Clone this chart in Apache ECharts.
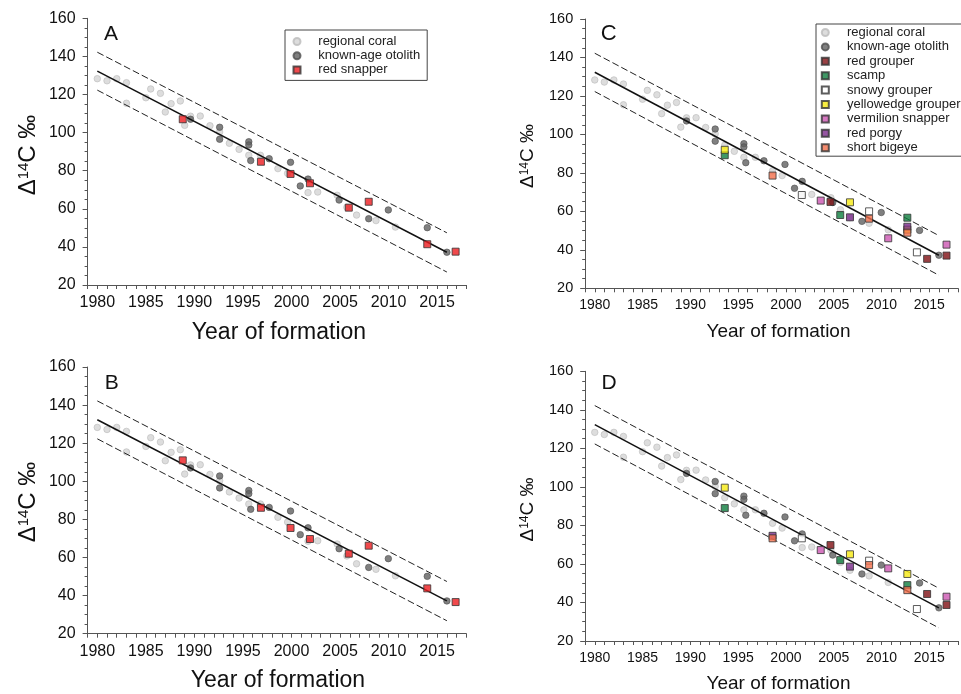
<!DOCTYPE html>
<html><head><meta charset="utf-8">
<script src="https://cdn.jsdelivr.net/npm/echarts/dist/echarts.min.js"></script>
<style>html,body{margin:0;padding:0;background:#fff}#c{width:961px;height:694px}</style>
</head><body><div id="c"></div>
<script>
// ---- data ----
const coralYears = [1980.0,1981.0,1982.0,1983.0,1983.0,1985.0,1985.5,1986.5,1987.0,1987.6,1988.55,1989.0,1989.6,1990.6,1991.6,1992.6,1993.6,1994.6,1995.6,1996.8,1998.6,1999.6,2001.7,2002.7,2004.7,2005.7,2006.7,2008.7,2010.7];
const coralVals  = [128.3,127.2,128.3,126.2,115.4,118.3,122.9,120.6,110.8,115.2,116.6,103.8,108.6,108.7,103.6,100.3,94.4,91.2,88.1,88.1,81.1,78.6,68.5,68.8,67.1,60.8,56.7,53.8,50.4];
const otolithYears = [1989.6,1992.6,1992.6,1995.6,1995.6,1995.8,1997.7,1999.9,2000.9,2001.7,2004.9,2007.95,2009.97,2013.98,2016.0];
const otolithVals  = [107,102.8,96.5,95.2,93.5,85.3,86.3,84.4,72,75.6,64.6,54.8,59.4,50.1,37.2];

const snapperYears = [1988.8,1996.85,1999.9,2001.9,2005.9,2007.95,2013.98,2016.9];
const snapperValsA = [107,84.7,78.3,73.4,60.6,63.7,41.4,37.5];
const snapperValsB = [111,86.1,75.5,69.7,62,66.2,43.8,36.6];

const fitYears  = [1980, 2016];
const fitVals   = [132.3, 37.2];
const upperVals = [142.2, 47.4];
const lowerVals = [122.3, 26.8];

// panel C species
const redGrouperYearsC = [2004.66,2014.77,2016.8];
const redGrouperValsC  = [64.9,35.3,37];
const scampYearsC = [1993.6,2005.68,2012.7];
const scampValsC  = [89.2,58.1,56.7];
const snowyYearsC = [2001.66,2008.7,2013.7];
const snowyValsC  = [68.5,60,38.7];
const yellowedgeYearsC = [1993.6,2006.7,2012.7];
const yellowedgeValsC  = [92,64.7,50.5];
const vermilionYearsC = [2003.64,2010.7,2016.8];
const vermilionValsC  = [65.6,46,42.7];
const porgyYearsC = [2006.7,2012.7];
const porgyValsC  = [56.9,52];
const bigeyeYearsC = [1998.6,2008.7,2012.7];
const bigeyeValsC  = [78.6,56.2,48.9];

// panel D species
const redGrouperYearsD = [2004.66,2014.77,2016.8];
const redGrouperValsD  = [69.8,44.4,38.7];
const scampYearsD = [1993.6,2005.68,2012.7];
const scampValsD  = [89,62,49];
const snowyYearsD = [2001.66,2008.7,2013.7];
const snowyValsD  = [73.3,61.7,36.6];
const yellowedgeYearsD = [1993.6,2006.7,2012.7];
const yellowedgeValsD  = [99.6,65,54.8];
const vermilionYearsD = [2003.64,2010.7,2016.8];
const vermilionValsD  = [67.2,57.7,43];
const porgyYearsD = [1998.6,2006.7];
const porgyValsD  = [74.6,58.6];
const bigeyeYearsD = [1998.6,2008.7,2012.7];
const bigeyeValsD  = [73.3,59.4,46.4];

const xTicksMin = 1979, xTicksMax = 2018, yMin = 20, yMax = 160, yStep = 20;

// ---- chart ----
const FONT = 'Liberation Sans';
const zip = (xs, ys) => xs.map((x, i) => [x, ys[i]]);

const grids = [
  {left: 87.6, top: 18.3, width: 378.7, height: 266.7},
  {left: 87.6, top: 367,  width: 378.7, height: 266.7},
  {left: 585.2, top: 19,  width: 382.2, height: 269.3},
  {left: 585.2, top: 371.3, width: 382.2, height: 269.7}
];
const big = [16, 16, 14, 14];

const xAxes = grids.map((g, i) => ({
  type: 'value', gridIndex: i, min: xTicksMin, max: xTicksMax, interval: 1,
  splitLine: {show: false},
  axisLine: {show: true, lineStyle: {color: '#555', width: 1}},
  axisTick: {show: true, length: 4, lineStyle: {color: '#555'}},
  axisLabel: {fontSize: big[i], color: '#111', fontFamily: FONT, margin: 10,
    formatter: v => (Math.round(v) % 5 === 0 ? String(Math.round(v)) : '')}
}));
const yAxes = grids.map((g, i) => ({
  type: 'value', gridIndex: i, min: yMin, max: yMax, interval: yStep,
  splitLine: {show: false},
  axisLine: {show: true, lineStyle: {color: '#555', width: 1}},
  axisTick: {show: true, length: 5, lineStyle: {color: '#555'}},
  minorTick: {show: true, splitNumber: 4, length: 3, lineStyle: {color: '#555'}},
  axisLabel: {fontSize: big[i] + (i < 2 ? 0 : 0.5), color: '#111', fontFamily: FONT, margin: 12}
}));

const coralStyle   = {color: '#d4d4d4', borderColor: '#bcbcbc', borderWidth: 0.8};
const otolithStyle = {color: '#606060', borderColor: '#505050', borderWidth: 0.8};
const sq = c => ({color: c, borderColor: '#333', borderWidth: 1});
const colors = {
  'red snapper': '#ec1c1f', 'red grouper': '#7f1014', 'scamp': '#0f7d3e',
  'snowy grouper': '#ffffff', 'yellowedge grouper': '#f6ea12',
  'vermilion snapper': '#cc56b1', 'red porgy': '#7a2a8b', 'short bigeye': '#f26f4b'
};

const series = [];
function circles(gi) {
  series.push({type: 'scatter', name: 'regional coral', xAxisIndex: gi, yAxisIndex: gi,
    symbol: 'circle', symbolSize: 6.5, itemStyle: coralStyle, data: zip(coralYears, coralVals), z: 2});
  series.push({type: 'scatter', name: 'known-age otolith', xAxisIndex: gi, yAxisIndex: gi,
    symbol: 'circle', symbolSize: 6.5, itemStyle: otolithStyle, data: zip(otolithYears, otolithVals), z: 3});
}
function lines(gi) {
  const base = {type: 'line', xAxisIndex: gi, yAxisIndex: gi, symbol: 'none', silent: true, z: 4};
  series.push(Object.assign({}, base, {name: 'fit', data: zip(fitYears, fitVals), lineStyle: {color: '#111', width: 1.5}}));
  series.push(Object.assign({}, base, {name: 'upper', data: zip(fitYears, upperVals), lineStyle: {color: '#222', width: 1, type: [7, 3]}}));
  series.push(Object.assign({}, base, {name: 'lower', data: zip(fitYears, lowerVals), lineStyle: {color: '#222', width: 1, type: [7, 3]}}));
}
function squares(gi, name, xs, ys) {
  series.push({type: 'scatter', name, xAxisIndex: gi, yAxisIndex: gi, symbol: 'rect', symbolSize: 7,
    itemStyle: sq(colors[name]), data: zip(xs, ys), z: 5});
}
// A
circles(0); lines(0); squares(0, 'red snapper', snapperYears, snapperValsA);
// B
circles(1); lines(1); squares(1, 'red snapper', snapperYears, snapperValsB);
// C
circles(2); lines(2);
squares(2, 'red grouper', redGrouperYearsC, redGrouperValsC);
squares(2, 'scamp', scampYearsC, scampValsC);
squares(2, 'snowy grouper', snowyYearsC, snowyValsC);
squares(2, 'yellowedge grouper', yellowedgeYearsC, yellowedgeValsC);
squares(2, 'vermilion snapper', vermilionYearsC, vermilionValsC);
squares(2, 'red porgy', porgyYearsC, porgyValsC);
squares(2, 'short bigeye', bigeyeYearsC, bigeyeValsC);
// D
circles(3); lines(3);
squares(3, 'red grouper', redGrouperYearsD, redGrouperValsD);
squares(3, 'scamp', scampYearsD, scampValsD);
squares(3, 'snowy grouper', snowyYearsD, snowyValsD);
squares(3, 'yellowedge grouper', yellowedgeYearsD, yellowedgeValsD);
squares(3, 'vermilion snapper', vermilionYearsD, vermilionValsD);
squares(3, 'red porgy', porgyYearsD, porgyValsD);
squares(3, 'short bigeye', bigeyeYearsD, bigeyeValsD);

const legendBase = {
  orient: 'vertical', itemWidth: 7, itemHeight: 7, selectedMode: false,
  borderColor: '#444', borderWidth: 1, backgroundColor: '#fff'
};
const legends = [
  Object.assign({}, legendBase, {left: 285, top: 30, itemGap: 1.2, padding: [5, 7, 4, 7.5],
    textStyle: {fontSize: 13, color: '#222', fontFamily: FONT, padding: [0, 0, 0, 12.8]},
    data: ['regional coral', 'known-age otolith', 'red snapper']}),
  Object.assign({}, legendBase, {left: 816, top: 24, itemGap: 1.4, padding: [2, 12, 2, 4.8],
    textStyle: {fontSize: 13, color: '#222', fontFamily: FONT, padding: [0, 0, 0, 13.2]},
    data: ['regional coral', 'known-age otolith', 'red grouper', 'scamp', 'snowy grouper',
           'yellowedge grouper', 'vermilion snapper', 'red porgy', 'short bigeye']})
];

function letter(t, x, y, fs) {
  return {type: 'text', x, y, z: 100, style: {text: t, fontSize: fs, fontFamily: FONT, fill: '#111', textAlign: 'center', textVerticalAlign: 'middle'}};
}
function xTitle(x, y, fs) {
  return {type: 'text', x, y, z: 100, style: {text: 'Year of formation', fontSize: fs, fontFamily: FONT, fill: '#111', textAlign: 'center', textVerticalAlign: 'middle'}};
}
function yTitle(x, y, fs) {
  return {type: 'text', x, y, rotation: Math.PI / 2, z: 100, style: {
    text: '{a|Δ}{s|14}{a|C ‰}', fontFamily: FONT, fill: '#111', textAlign: 'center', textVerticalAlign: 'middle',
    rich: {a: {fontSize: fs, fontFamily: FONT, fill: '#111', verticalAlign: 'bottom'},
           s: {fontSize: Math.round(fs * 0.62), fontFamily: FONT, fill: '#111', verticalAlign: 'top'}}}};
}

const chart = echarts.init(document.getElementById('c'), null, {renderer: 'canvas'});
chart.setOption({
  animation: false,
  backgroundColor: '#fff',
  textStyle: {fontFamily: FONT},
  grid: grids,
  xAxis: xAxes,
  yAxis: yAxes,
  legend: legends,
  series,
  graphic: [
    letter('A', 111, 34, 21), letter('B', 111.7, 383, 21), letter('C', 608.7, 33.5, 22), letter('D', 609, 383, 21),
    xTitle(279, 333, 23), xTitle(278, 681, 23), xTitle(778.5, 332, 19), xTitle(778.5, 684, 19),
    yTitle(28, 155, 24), yTitle(28, 502, 24), yTitle(528, 156, 19), yTitle(528, 509.5, 19)
  ]
});
</script></body></html>
